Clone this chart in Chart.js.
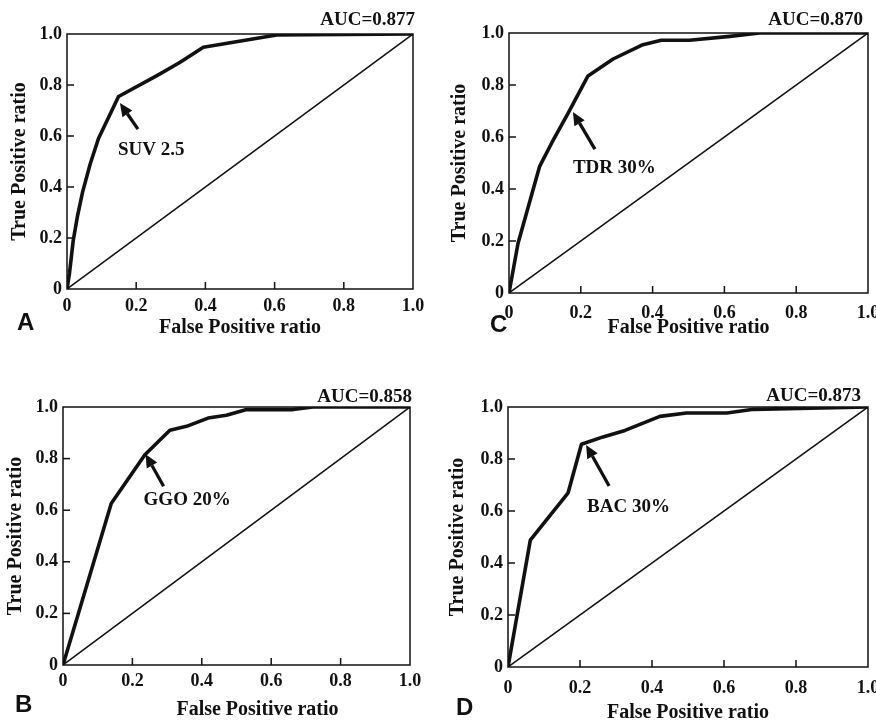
<!DOCTYPE html>
<html>
<head>
<meta charset="utf-8">
<script src="https://cdn.jsdelivr.net/npm/chart.js@4/dist/chart.umd.min.js"></script>
<style>
  html, body { margin: 0; padding: 0; background: #ffffff; }
  #fig { position: relative; width: 876px; height: 724px; overflow: hidden; background: #ffffff; }
  .panel { position: absolute; display: block; }
</style>
</head>
<body>
<div id="fig"></div>
<script>
// ROC curves: false positive ratio (x) and true positive ratio (y) for each predictor
const fprSUV = [0, 0.007, 0.018, 0.030, 0.045, 0.067, 0.091, 0.149, 0.260, 0.327, 0.394, 0.606, 1.0];
const tprSUV = [0, 0.060, 0.190, 0.284, 0.380, 0.490, 0.590, 0.755, 0.837, 0.889, 0.948, 0.996, 1.0];

const fprTDR = [0, 0.025, 0.085, 0.120, 0.164, 0.220, 0.290, 0.373, 0.424, 0.503, 0.615, 0.698, 1.0];
const tprTDR = [0, 0.190, 0.486, 0.580, 0.690, 0.835, 0.900, 0.955, 0.972, 0.972, 0.987, 1.000, 1.0];

const fprGGO = [0, 0.139, 0.236, 0.308, 0.356, 0.418, 0.471, 0.529, 0.663, 0.720, 1.0];
const tprGGO = [0, 0.626, 0.815, 0.910, 0.925, 0.957, 0.968, 0.990, 0.990, 1.000, 1.0];

const fprBAC = [0, 0.062, 0.167, 0.204, 0.264, 0.325, 0.422, 0.496, 0.608, 0.682, 1.0];
const tprBAC = [0, 0.488, 0.670, 0.857, 0.885, 0.910, 0.964, 0.977, 0.977, 0.991, 1.0];

// Reference (chance) diagonal
const chanceX = [0, 1];
const chanceY = [0, 1];

// Axis ticks
const tickValues = [0, 0.2, 0.4, 0.6, 0.8, 1.0];
const tickLabels = ['0', '0.2', '0.4', '0.6', '0.8', '1.0'];

// Panel texts
const panelLetters = ['A', 'C', 'B', 'D'];
const aucLabels = ['AUC=0.877', 'AUC=0.870', 'AUC=0.858', 'AUC=0.873'];
const cutoffLabels = ['SUV 2.5', 'TDR 30%', 'GGO 20%', 'BAC 30%'];
// Operating point marked by the arrow (fpr, tpr)
const cutoffFpr = [0.153, 0.178, 0.238, 0.217];
const cutoffTpr = [0.729, 0.696, 0.817, 0.854];
const xTitle = 'False Positive ratio';
const yTitle = 'True Positive ratio';

const SERIF = '"Liberation Serif", "Times New Roman", Times, serif';
const SANS = '"Liberation Sans", Arial, Helvetica, sans-serif';
const INK = '#111111';

const panels = [
  { fpr: fprSUV, tpr: tprSUV, canvas: { x: 0,   y: 0,   w: 440, h: 350 }, plot: { l: 67,  t: 34,  r: 413, b: 289 },
    tickPad: 7, arrow: { dx: 18, dy: 26 }, note: { dx: -2, dy: 52 }, auc: { dx: 2, dy: -9 },
    letter: { dx: -50, dy: 41 }, xT: { dx: 0, dy: 44 }, yT: { dx: -48 } },
  { fpr: fprTDR, tpr: tprTDR, canvas: { x: 440, y: 0,   w: 436, h: 350 }, plot: { l: 509, t: 33,  r: 868, b: 293 },
    tickPad: 10, arrow: { dx: 22, dy: 37 }, note: { dx: 0, dy: 61 }, auc: { dx: -5, dy: -8 },
    letter: { dx: -19, dy: 39 }, xT: { dx: 0, dy: 40 }, yT: { dx: -50 } },
  { fpr: fprGGO, tpr: tprGGO, canvas: { x: 0,   y: 350, w: 440, h: 374 }, plot: { l: 63,  t: 407, r: 410, b: 665 },
    tickPad: 6, arrow: { dx: 18, dy: 32 }, note: { dx: -2, dy: 51 }, auc: { dx: 2, dy: -5 },
    letter: { dx: -48, dy: 47 }, xT: { dx: 21, dy: 50 }, yT: { dx: -48 } },
  { fpr: fprBAC, tpr: tprBAC, canvas: { x: 440, y: 350, w: 436, h: 374 }, plot: { l: 508, t: 407, r: 868, b: 667 },
    tickPad: 11, arrow: { dx: 23, dy: 41 }, note: { dx: 1, dy: 67 }, auc: { dx: -7, dy: -6 },
    letter: { dx: -52, dy: 48 }, xT: { dx: 0, dy: 51 }, yT: { dx: -51 } }
];

// Frame, inner tick marks, arrow annotation, AUC label, panel letter and axis titles
const rocDecor = {
  id: 'rocDecor',
  beforeDatasetsDraw(chart, args, o) {
    const { ctx, chartArea: a } = chart;
    ctx.save();
    ctx.strokeStyle = INK;
    ctx.lineWidth = 1.5;
    ctx.strokeRect(a.left, a.top, a.right - a.left, a.bottom - a.top);
    const xs = chart.scales.x, ys = chart.scales.y;
    tickValues.slice(1, -1).forEach(v => {
      const px = xs.getPixelForValue(v);
      ctx.beginPath(); ctx.moveTo(px, a.bottom); ctx.lineTo(px, a.bottom - 7); ctx.stroke();
      const py = ys.getPixelForValue(v);
      ctx.beginPath(); ctx.moveTo(a.left, py); ctx.lineTo(a.left + 7, py); ctx.stroke();
    });
    ctx.restore();
  },
  afterDatasetsDraw(chart, args, o) {
    const { ctx, chartArea: a } = chart;
    const xs = chart.scales.x, ys = chart.scales.y;
    ctx.save();
    ctx.fillStyle = INK;
    ctx.strokeStyle = INK;

    // arrow pointing at the cut-off
    const tx = xs.getPixelForValue(o.tipX), ty = ys.getPixelForValue(o.tipY);
    const sx = tx + o.arrow.dx, sy = ty + o.arrow.dy;
    const ang = Math.atan2(ty - sy, tx - sx);
    const headLen = 13, headHalf = 6;
    const bx = tx - headLen * Math.cos(ang), by = ty - headLen * Math.sin(ang);
    ctx.lineWidth = 3.3;
    ctx.lineCap = 'butt';
    ctx.beginPath(); ctx.moveTo(sx, sy); ctx.lineTo(bx, by); ctx.stroke();
    ctx.beginPath();
    ctx.moveTo(tx, ty);
    ctx.lineTo(bx + headHalf * Math.sin(ang), by - headHalf * Math.cos(ang));
    ctx.lineTo(bx - headHalf * Math.sin(ang), by + headHalf * Math.cos(ang));
    ctx.closePath(); ctx.fill();

    ctx.textBaseline = 'alphabetic';
    ctx.font = 'bold 19px ' + SERIF;
    ctx.textAlign = 'left';
    ctx.fillText(o.note, tx + o.noteOff.dx, ty + o.noteOff.dy);

    // AUC above the top-right corner
    ctx.textAlign = 'right';
    ctx.fillText(o.auc, a.right + o.aucOff.dx, a.top + o.aucOff.dy);

    // axis titles
    ctx.font = 'bold 20px ' + SERIF;
    ctx.textAlign = 'center';
    ctx.fillText(xTitle, (a.left + a.right) / 2 + o.xT.dx, a.bottom + o.xT.dy);
    ctx.save();
    ctx.translate(a.left + o.yT.dx + 6, (a.top + a.bottom) / 2);
    ctx.rotate(-Math.PI / 2);
    ctx.fillText(yTitle, 0, 0);
    ctx.restore();

    // panel letter
    ctx.textAlign = 'left';
    ctx.font = 'bold 24px ' + SANS;
    ctx.fillText(o.letter, a.left + o.letterOff.dx, a.bottom + o.letterOff.dy);
    ctx.restore();
  }
};

const fig = document.getElementById('fig');

panels.forEach((p, i) => {
  const cv = document.createElement('canvas');
  cv.className = 'panel';
  cv.width = p.canvas.w; cv.height = p.canvas.h;
  cv.style.left = p.canvas.x + 'px'; cv.style.top = p.canvas.y + 'px';
  cv.style.width = p.canvas.w + 'px'; cv.style.height = p.canvas.h + 'px';
  fig.appendChild(cv);

  const yAxisWidth = p.plot.l - p.canvas.x;
  const xAxisHeight = p.canvas.y + p.canvas.h - p.plot.b;
  const tickFont = { family: SERIF, size: 18, weight: 'bold' };

  new Chart(cv, {
    type: 'scatter',
    data: {
      datasets: [
        {
          label: cutoffLabels[i],
          data: p.fpr.map((x, k) => ({ x, y: p.tpr[k] })),
          showLine: true, borderColor: INK, borderWidth: 3.6,
          borderJoinStyle: 'round', borderCapStyle: 'round',
          pointRadius: 0, tension: 0, fill: false
        },
        {
          label: 'chance',
          data: chanceX.map((x, k) => ({ x, y: chanceY[k] })),
          showLine: true, borderColor: INK, borderWidth: 1.5,
          pointRadius: 0, tension: 0, fill: false
        }
      ]
    },
    options: {
      responsive: false,
      animation: false,
      events: [],
      devicePixelRatio: 1,
      layout: { padding: { left: 0, bottom: 0, top: p.plot.t - p.canvas.y, right: p.canvas.x + p.canvas.w - p.plot.r } },
      plugins: {
        legend: { display: false },
        tooltip: { enabled: false },
        rocDecor: {
          tipX: cutoffFpr[i], tipY: cutoffTpr[i], arrow: p.arrow,
          note: cutoffLabels[i], noteOff: p.note,
          auc: aucLabels[i], aucOff: p.auc,
          letter: panelLetters[i], letterOff: p.letter,
          xT: p.xT, yT: p.yT
        }
      },
      scales: {
        x: {
          type: 'linear', min: 0, max: 1,
          grid: { display: false, drawTicks: false }, border: { display: false },
          afterBuildTicks: s => { s.ticks = tickValues.map(v => ({ value: v })); },
          ticks: {
            callback: (v) => tickLabels[tickValues.findIndex(t => Math.abs(t - v) < 1e-6)],
            font: tickFont, color: INK, padding: p.tickPad, maxRotation: 0, autoSkip: false
          },
          afterFit: s => { s.height = xAxisHeight; s.paddingLeft = 0; s.paddingRight = 0; }
        },
        y: {
          type: 'linear', min: 0, max: 1,
          grid: { display: false, drawTicks: false }, border: { display: false },
          afterBuildTicks: s => { s.ticks = tickValues.map(v => ({ value: v })); },
          ticks: {
            callback: (v) => tickLabels[tickValues.findIndex(t => Math.abs(t - v) < 1e-6)],
            font: tickFont, color: INK, padding: 5, autoSkip: false
          },
          afterFit: s => { s.width = yAxisWidth; s.paddingTop = 0; s.paddingBottom = 0; }
        }
      }
    },
    plugins: [rocDecor]
  });
});
</script>
</body>
</html>
